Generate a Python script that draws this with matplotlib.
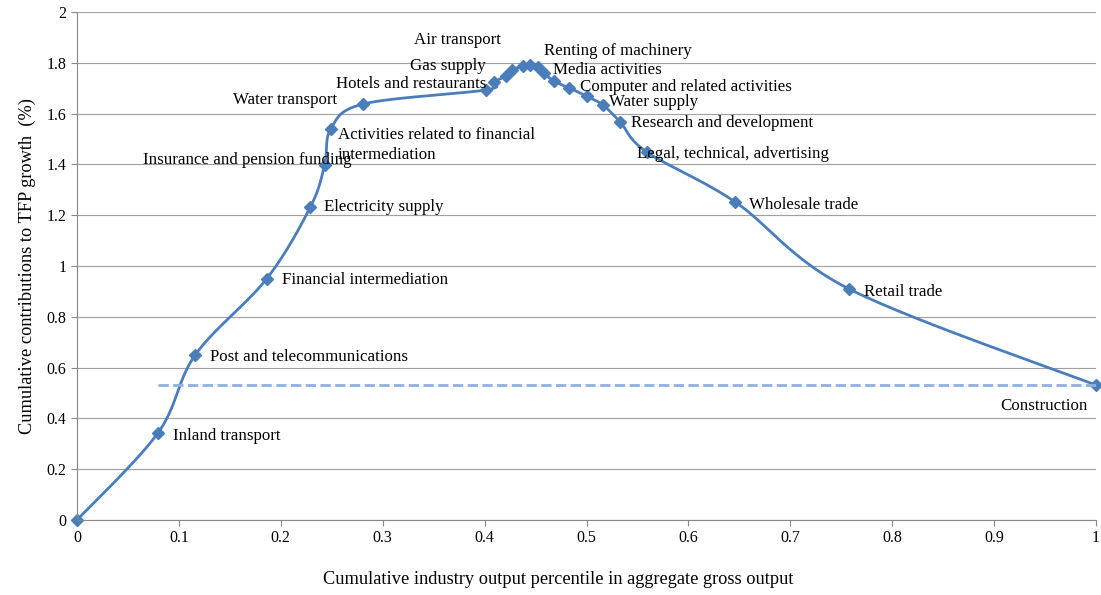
import numpy as np
import matplotlib
matplotlib.use("Agg")
import matplotlib.pyplot as plt

x = [0, 0.0795, 0.116, 0.186, 0.229, 0.243, 0.249, 0.281, 0.401, 0.409, 0.421, 0.427, 0.438, 0.445,
     0.452, 0.458, 0.468, 0.483, 0.500, 0.516, 0.533, 0.559, 0.646, 0.758, 1.0]
y = [0, 0.343, 0.650, 0.949, 1.232, 1.398, 1.539, 1.638, 1.693, 1.724, 1.748, 1.772, 1.787, 1.791,
     1.783, 1.760, 1.728, 1.701, 1.669, 1.634, 1.567, 1.449, 1.252, 0.909, 0.531]
baseline = 0.531

labels = [
    ("Inland transport", 173, 436), ("Post and telecommunications", 210, 357),
    ("Financial intermediation", 282, 280), ("Electricity supply", 324, 207),
    ("Insurance and pension funding", 143, 160),
    ("Activities related to financial\nintermediation", 338, 145),
    ("Water transport", 233, 100), ("Hotels and restaurants", 336, 84),
    ("Gas supply", 410, 66), ("Air transport", 414, 40),
    ("Renting of machinery", 544, 51), ("Media activities", 553, 70),
    ("Computer and related activities", 580, 87), ("Water supply", 609, 102),
    ("Research and development", 631, 123), ("Legal, technical, advertising", 637, 154),
    ("Wholesale trade", 749, 205), ("Retail trade", 864, 292), ("Construction", 1000, 406),
]

plt.rcParams['font.family'] = ['Liberation Serif', 'DejaVu Serif']
fig = plt.figure(figsize=(11.01, 5.95), dpi=100)
ax = fig.add_axes([77/1101, 75/595, 1019/1101, 508/595])

P = np.column_stack([x, y])
Pp = np.vstack([P[0], P, P[-1]])
sx, sy = [], []
for i in range(1, len(Pp) - 2):
    p0, p1, p2, p3 = Pp[i-1], Pp[i], Pp[i+1], Pp[i+2]
    t = np.linspace(0, 1, 30)[:, None]
    c = 0.5 * ((2*p1) + (-p0+p2)*t + (2*p0-5*p1+4*p2-p3)*t**2 + (-p0+3*p1-3*p2+p3)*t**3)
    sx.extend(c[:, 0]); sy.extend(c[:, 1])
ax.plot(sx, sy, color='#4a7ebb', lw=2, clip_on=False)
ax.plot(x, y, 'D', color='#4a7ebb', ms=6, clip_on=False)
ax.plot([x[1], 1.0], [baseline, baseline], '--', color='#8fb0e0', lw=2)

for t, px, py in labels:
    ax.text((px-77)/1019, (520-py)/254, t, fontsize=12.2, va='center', ha='left', linespacing=1.3)

ax.set_xlim(0, 1); ax.set_ylim(0, 2)
ax.set_xticks(np.arange(0, 1.01, 0.1))
ax.set_xticklabels(['0', '0.1', '0.2', '0.3', '0.4', '0.5', '0.6', '0.7', '0.8', '0.9', '1'])
ax.set_yticks(np.arange(0, 2.01, 0.2))
ax.set_yticklabels(['0', '0.2', '0.4', '0.6', '0.8', '1', '1.2', '1.4', '1.6', '1.8', '2'])
ax.grid(axis='y', color='#a0a0a0', lw=0.8)
ax.set_axisbelow(True)
for s in ['top', 'right']:
    ax.spines[s].set_visible(False)
ax.spines['left'].set_color('#888888'); ax.spines['bottom'].set_color('#888888')
ax.tick_params(labelsize=11.5, length=4, color='#888888')
ax.set_xlabel('Cumulative industry output percentile in aggregate gross output', fontsize=13.2, va='center')
ax.xaxis.set_label_coords(0.472, -0.118)
ax.set_ylabel('Cumulative contributions to TFP growth  (%)', fontsize=13.2, labelpad=8)
fig.savefig('out.png', dpi=100)
